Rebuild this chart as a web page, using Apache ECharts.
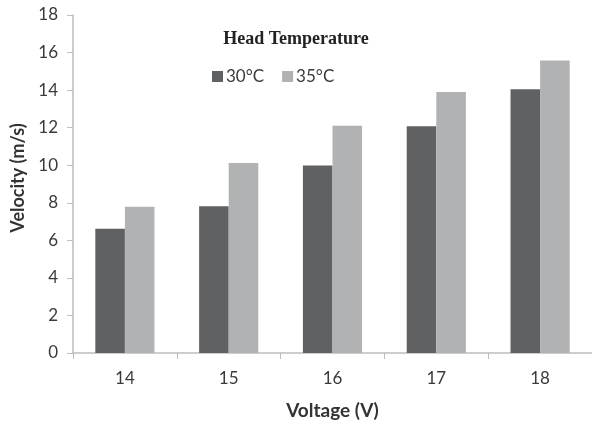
<!DOCTYPE html>
<html>
<head>
<meta charset="utf-8">
<script src="https://cdn.jsdelivr.net/npm/echarts@6/dist/echarts.min.js"></script>
<style>html,body{margin:0;padding:0;background:#fff;}#c{width:592px;height:425px;}</style>
</head>
<body>
<div id="c"></div>
<script>
var categories = ['14', '15', '16', '17', '18'];
var series30 = [6.62, 7.82, 9.98, 12.07, 14.05];
var series35 = [7.79, 10.12, 12.1, 13.9, 15.58];
var seriesNames = ['30°C', '35°C'];

var chart = echarts.init(document.getElementById('c'), null, {renderer: 'canvas'});
var font = 'Lato';
chart.setOption({
  animation: false,
  backgroundColor: '#fff',
  title: {
    text: 'Head Temperature',
    left: 'center',
    top: 25,
    textStyle: {fontFamily: 'Liberation Serif', fontWeight: 'bold', fontSize: 18, color: '#222'}
  },
  legend: {
    left: 207,
    top: 63,
    itemWidth: 11,
    itemHeight: 11,
    itemGap: 18,
    icon: 'rect',
    data: seriesNames,
    textStyle: {fontFamily: font, fontSize: 17, color: '#3a3a3a', padding: [0,0,0,-2]}
  },
  grid: {left: 73, right: 0, top: 15, bottom: 71},
  xAxis: {
    type: 'category',
    data: categories,
    name: 'Voltage (V)',
    nameLocation: 'middle',
    nameGap: 48,
    nameTextStyle: {fontFamily: font, fontWeight: 'bold', fontSize: 19, color: '#333'},
    axisLine: {lineStyle: {color: '#bdbdbd', width: 1.5}},
    axisTick: {show: true, length: 6, lineStyle: {color: '#bdbdbd'}},
    axisLabel: {fontFamily: font, fontSize: 17, color: '#3a3a3a', margin: 17}
  },
  yAxis: {
    type: 'value',
    min: 0, max: 18, interval: 2,
    name: 'Velocity (m/s)',
    nameLocation: 'middle',
    nameGap: 46,
    nameTextStyle: {fontFamily: font, fontWeight: 'bold', fontSize: 18, color: '#333', padding: [0, 0, 0, 12]},
    axisLine: {show: true, lineStyle: {color: '#bdbdbd', width: 1.5}},
    axisTick: {show: true, length: 6, lineStyle: {color: '#bdbdbd'}},
    splitLine: {show: false},
    axisLabel: {fontFamily: font, fontSize: 17, color: '#3a3a3a', margin: 15}
  },
  series: [
    {name: seriesNames[0], type: 'bar', data: series30, barGap: '0%', barCategoryGap: '43%',
     itemStyle: {color: '#606163'}},
    {name: seriesNames[1], type: 'bar', data: series35, barGap: '0%', barCategoryGap: '43%',
     itemStyle: {color: '#b1b2b4'}}
  ]
});
</script>
</body>
</html>
